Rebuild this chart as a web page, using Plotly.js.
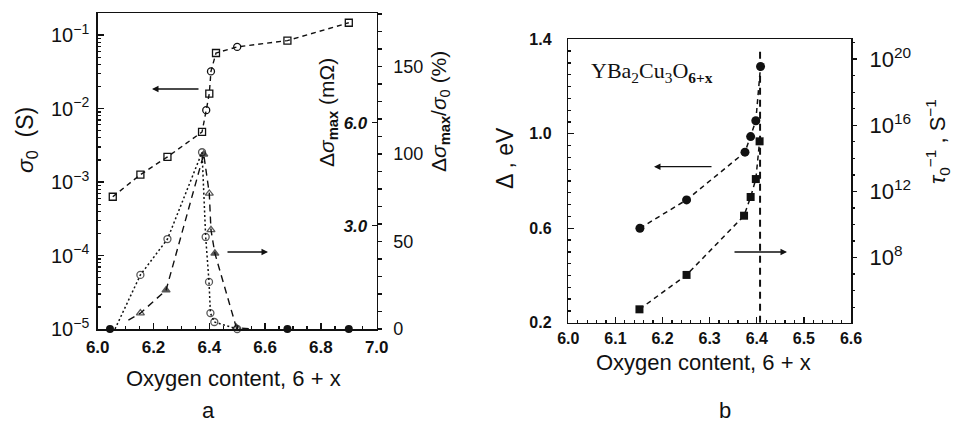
<!DOCTYPE html>
<html>
<head>
<meta charset="utf-8">
<script src="https://cdn.plot.ly/plotly-3.0.1.min.js"></script>
<style>html,body{margin:0;padding:0;background:#fff;}#chart{width:954px;height:422px;}</style>
</head>
<body>
<div id="chart"></div>
<script>
// ---------- Panel a data ----------
const xSigma = [6.054, 6.153, 6.25, 6.374, 6.389, 6.40, 6.406, 6.424, 6.50, 6.68, 6.90];
const sigma0 = [6.3e-4, 1.26e-3, 2.2e-3, 4.8e-3, 9.5e-3, 1.6e-2, 3.2e-2, 5.7e-2, 6.9e-2, 8.4e-2, 0.147];
const sigmaSym = ['square-open','square-open','square-open','square-open','circle-open','square-open','circle-open','square-open','circle-open','square-open','square-open'];

const xRatio = [6.062, 6.153, 6.25, 6.374, 6.387, 6.399, 6.404, 6.418, 6.50];
const ratioPct = [0, 30.9, 51.4, 101, 52.6, 26.9, 9.1, 4, 0];
const ratioShown = [0, 1, 1, 1, 1, 1, 1, 1, 1];

const xDsig = [6.11, 6.153, 6.245, 6.38, 6.40, 6.406, 6.42, 6.497, 6.55];
const dsigMOhm = [0.26, 0.46, 1.13, 5.08, 3.94, 2.88, 2.2, 0.04, 0];
const dsigSym = ['triangle-up','triangle-up-open','triangle-up','triangle-up','triangle-up-open','triangle-up-open','triangle-up','triangle-up-open','triangle-up'];
const dsigShown = [0, 1, 1, 1, 1, 1, 1, 1, 0];

const xZero = [6.044, 6.68, 6.90];
const zeroVal = [0, 0, 0];

// ---------- Panel b data ----------
const xGap = [6.152, 6.251, 6.375, 6.387, 6.398, 6.408];
const gapEV = [0.60, 0.72, 0.922, 0.988, 1.055, 1.285];
const xTau = [6.151, 6.251, 6.373, 6.387, 6.398, 6.406];
const tauInv = [7.4e4, 8.9e6, 3.4e10, 4.6e11, 5.6e12, 1.07e15];
const xCritical = 6.407;

// tick labels
const sigTickVals = [1e-5, 1e-4, 1e-3, 1e-2, 1e-1];
const sigTickText = ['10<sup>−5</sup>','10<sup>−4</sup>','10<sup>−3</sup>','10<sup>−2</sup>','10<sup>−1</sup>'];
const tauTickVals = [1e8, 1e12, 1e16, 1e20];
const tauTickText = ['10<sup>8</sup>','10<sup>12</sup>','10<sup>16</sup>','10<sup>20</sup>'];

const INK = '#111';
const sans = 'Liberation Sans, Arial, sans-serif';
const W = 954, H = 422;
const px = v => v / W, py = v => 1 - v / H;

function minorLog(lo, hi) {
  const out = [];
  for (let k = lo; k < hi; k++) for (let m = 2; m <= 9; m++) out.push(m * Math.pow(10, k));
  return out;
}
function decades(lo, hi) { const o = []; for (let k = lo; k <= hi; k++) o.push(Math.pow(10, k)); return o; }

const sz = (arr, s) => arr.map(v => v ? s : 0);

const traces = [
  { x: xSigma, y: sigma0, xaxis: 'x', yaxis: 'y', mode: 'lines+markers', cliponaxis: false,
    line: { color: INK, width: 1.4, dash: '5px,4px' },
    marker: { symbol: sigmaSym, size: 7, color: INK, line: { width: 1.3, color: INK } } },
  { x: xRatio, y: ratioPct, xaxis: 'x', yaxis: 'y3', mode: 'lines+markers', cliponaxis: false,
    line: { color: INK, width: 1.5, dash: '2px,2.5px' },
    marker: { symbol: 'circle-open', size: sz(ratioShown, 7), color: INK, line: { width: 1.3, color: INK } } },
  { x: xDsig, y: dsigMOhm, xaxis: 'x', yaxis: 'y2', mode: 'lines+markers', cliponaxis: false,
    line: { color: INK, width: 1.4, dash: '7px,5px' },
    marker: { symbol: dsigSym, size: sz(dsigShown, 7), color: INK, line: { width: 1.3, color: INK } } },
  { x: xZero, y: zeroVal, xaxis: 'x', yaxis: 'y3', mode: 'markers', cliponaxis: false,
    marker: { symbol: 'circle', size: 8, color: INK } },
  { x: xGap, y: gapEV, xaxis: 'x2', yaxis: 'y4', mode: 'lines+markers', cliponaxis: false,
    line: { color: INK, width: 1.5, dash: '5px,4px' },
    marker: { symbol: 'circle', size: 9, color: INK } },
  { x: xTau, y: tauInv, xaxis: 'x2', yaxis: 'y5', mode: 'lines+markers', cliponaxis: false,
    line: { color: INK, width: 1.5, dash: '5px,4px' },
    marker: { symbol: 'square', size: 8, color: INK } }
];

const tickFontBold = { family: sans, size: 17, color: INK, weight: 700 };
const baseAxis = { showgrid: false, zeroline: false, linecolor: INK, linewidth: 1.5, tickcolor: INK, tickwidth: 1.3 };

const layout = {
  width: W, height: H, margin: { l: 0, r: 0, t: 0, b: 0 },
  paper_bgcolor: '#fff', plot_bgcolor: 'rgba(0,0,0,0)', showlegend: false,
  xaxis: Object.assign({}, baseAxis, { domain: [px(97.7), px(376.7)], anchor: 'y', range: [6, 7],
    tickvals: [6.0, 6.2, 6.4, 6.6, 6.8, 7.0], ticktext: ['6.0','6.2','6.4','6.6','6.8','7.0'],
    ticks: 'inside', ticklen: 6, showline: true, mirror: true, tickfont: tickFontBold, ticklabelstandoff: 2,
    minor: { dtick: 0.05, ticks: 'inside', ticklen: 3, tickcolor: INK } }),
  yaxis: Object.assign({}, baseAxis, { domain: [py(329), py(13)], anchor: 'x', type: 'log', range: [-5, -0.7],
    tickvals: sigTickVals, ticktext: sigTickText, ticks: 'inside', ticklen: 6, showline: true, mirror: true,
    tickfont: { family: sans, size: 20, color: INK }, ticklabelstandoff: 3,
    minor: { tickvals: minorLog(-5, -1), ticks: 'inside', ticklen: 3, tickcolor: INK } }),
  yaxis2: Object.assign({}, baseAxis, { overlaying: 'y', anchor: 'free', position: px(376.7), side: 'left', range: [0, 316 / 34.4],
    tickvals: [3, 6], ticktext: ['3.0', '6.0'], ticks: 'outside', ticklen: 5, showline: false, ticklabelstandoff: 1,
    tickfont: { family: sans, size: 17, color: INK, weight: 700, style: 'italic' } }),
  yaxis3: Object.assign({}, baseAxis, { overlaying: 'y', anchor: 'x', side: 'right', range: [0, 316 / 1.75],
    tickvals: [0, 50, 100, 150], ticks: 'outside', ticklen: 4, showline: false, ticklabelstandoff: 8,
    tickfont: { family: sans, size: 18, color: INK },
    minor: { dtick: 10, ticks: 'outside', ticklen: 4, tickcolor: INK } }),
  xaxis2: Object.assign({}, baseAxis, { domain: [px(568.3), px(851)], anchor: 'y4', range: [6.0, 6.6],
    tickvals: [6.0, 6.1, 6.2, 6.3, 6.4, 6.5, 6.6], ticktext: ['6.0','6.1','6.2','6.3','6.4','6.5','6.6'],
    ticks: 'inside', ticklen: 6, showline: true, mirror: true, ticklabelstandoff: 1,
    tickfont: Object.assign({}, tickFontBold, { size: 16 }),
    minor: { dtick: 0.02, ticks: 'inside', ticklen: 3, tickcolor: INK } }),
  yaxis4: Object.assign({}, baseAxis, { domain: [py(322.7), py(39.3)], anchor: 'x2', range: [0.2, 1.4],
    tickvals: [0.2, 0.6, 1.0, 1.4], ticktext: ['0.2','0.6','1.0','1.4'], ticks: 'inside', ticklen: 6,
    showline: true, mirror: true, ticklabelstandoff: 12, tickfont: Object.assign({}, tickFontBold, { size: 16 }),
    minor: { dtick: 0.05, ticks: 'inside', ticklen: 3, tickcolor: INK } }),
  yaxis5: Object.assign({}, baseAxis, { overlaying: 'y4', anchor: 'x2', side: 'right', type: 'log', range: [4.06, 21.2],
    tickvals: tauTickVals, ticktext: tauTickText, ticks: 'outside', ticklen: 5, showline: false, ticklabelstandoff: 8,
    tickfont: { family: sans, size: 22, color: INK },
    minor: { tickvals: decades(5, 21), ticks: 'outside', ticklen: 3, tickcolor: INK } }),
  shapes: [
    { type: 'line', xref: 'x2', yref: 'y4', x0: xCritical, x1: xCritical, y0: 0.2, y1: 1.36,
      line: { color: INK, width: 2, dash: '7px,5px' } }
  ],
  annotations: [
    { text: 'Oxygen content, 6 + x', x: px(233), y: py(378), textangle: 0, font: { family: sans, size: 22, color: INK } },
    { text: 'a', x: px(208), y: py(410), textangle: 0, font: { family: sans, size: 22, color: INK } },
    { text: 'Oxygen content, 6 + x', x: px(703), y: py(362), textangle: 0, font: { family: sans, size: 22, color: INK } },
    { text: 'b', x: px(725), y: py(410), textangle: 0, font: { family: sans, size: 22, color: INK } },
    { text: '<i>σ</i><sub>0</sub>  (S)', x: px(26), y: py(140), textangle: -90, font: { family: sans, size: 23, color: INK } },
    { text: 'Δ<i>σ</i><sub><b>max</b></sub> (mΩ)', x: px(328), y: py(113), textangle: -90, font: { family: sans, size: 21, color: INK } },
    { text: 'Δ<i>σ</i><sub><b>max</b></sub>/<i>σ</i><sub>0</sub> (%)', x: px(440), y: py(112), textangle: -90, font: { family: sans, size: 21, color: INK } },
    { text: 'Δ , eV', x: px(505), y: py(158), textangle: -90, font: { family: sans, size: 23, color: INK } },
    { text: '<i>τ</i><sub>0</sub><sup>−1</sup> , S<sup>−1</sup>', x: px(937), y: py(142), textangle: -90, font: { family: sans, size: 22, color: INK } },
    { text: 'YBa<sub>2</sub>Cu<sub>3</sub>O<sub><b>6+x</b></sub>', x: px(589), y: py(72), xanchor: 'left', textangle: 0,
      font: { family: 'Liberation Serif, Times New Roman, serif', size: 22, color: INK } }
  ].map(a => Object.assign({ xref: 'paper', yref: 'paper', showarrow: false, xanchor: 'center', yanchor: 'middle' }, a))
  .concat([
    { x: px(152), y: py(89), ax: 48 },
    { x: px(268), y: py(252), ax: -42 },
    { x: px(654), y: py(166.7), ax: 59 },
    { x: px(787), y: py(252), ax: -54 }
  ].map(a => Object.assign({ text: '', xref: 'paper', yref: 'paper', ay: 0, showarrow: true,
      arrowhead: 2, arrowsize: 1, arrowwidth: 1.3, arrowcolor: INK }, a)))
};

Plotly.newPlot('chart', traces, layout, { staticPlot: true, displayModeBar: false });
</script>
</body>
</html>
